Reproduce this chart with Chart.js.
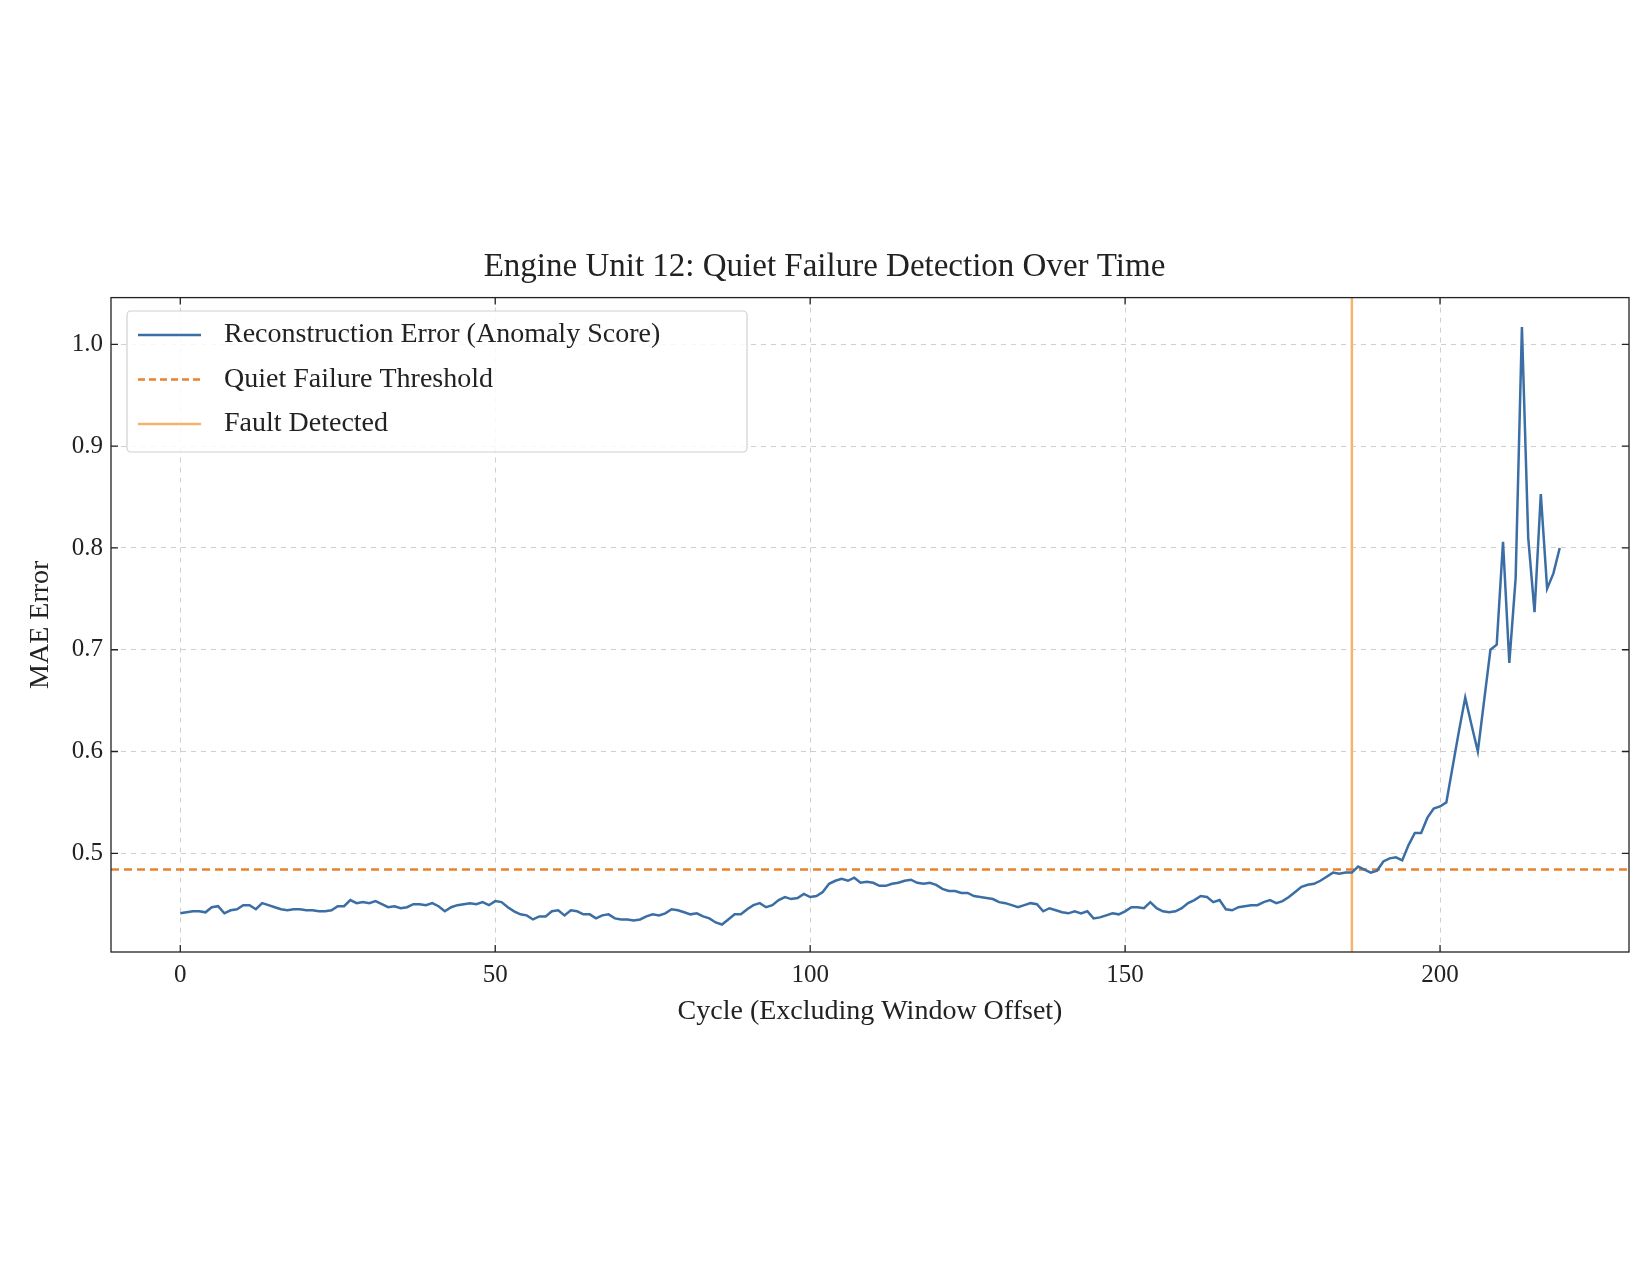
<!DOCTYPE html>
<html><head><meta charset="utf-8">
<script src="https://cdn.jsdelivr.net/npm/chart.js@4.4.1/dist/chart.umd.min.js"></script>
<style>html,body{margin:0;padding:0;background:#fff}#wrap{width:1650px;height:1275px}</style>
</head><body><div id="wrap"><canvas id="c" width="1650" height="1275"></canvas></div>
<script>
const errorValues = [
.441,.442,.443,.443,.442,.447,.448,.441,.444,.445,
.449,.449,.445,.451,.449,.447,.445,.444,.445,.445,
.444,.444,.443,.443,.444,.448,.448,.454,.451,.452,
.451,.453,.450,.447,.448,.446,.447,.450,.450,.449,
.451,.448,.443,.447,.449,.450,.451,.450,.452,.449,
.453,.452,.447,.443,.440,.439,.435,.438,.438,.443,
.444,.439,.444,.443,.440,.440,.436,.439,.440,.436,
.435,.435,.434,.435,.438,.440,.439,.441,.445,.444,
.442,.440,.441,.438,.436,.432,.430,.435,.440,.440,
.445,.449,.451,.447,.449,.454,.457,.455,.456,.460,
.457,.458,.462,.470,.473,.475,.473,.476,.471,.472,
.471,.468,.468,.470,.471,.473,.474,.471,.470,.471,
.469,.465,.463,.463,.461,.461,.458,.457,.456,.455,
.452,.451,.449,.447,.449,.451,.450,.443,.446,.444,
.442,.441,.443,.441,.443,.436,.437,.439,.441,.440,
.443,.447,.447,.446,.452,.446,.443,.442,.443,.446,
.451,.454,.458,.457,.452,.454,.445,.444,.447,.448,
.449,.449,.452,.454,.451,.453,.457,.462,.467,.469,
.470,.473,.477,.481,.480,.481,.481,.487,.484,.481,
.483,.492,.495,.496,.493,.508,.520,.520,.535,.544,
.546,.550,.585,.620,.653,.626,.600,.650,.700,.705,
.806,.687,.770,1.017,.810,.737,.853,.760,.775,.800];
const cycles = errorValues.map((_, i) => i);
const threshold = 0.484;
const faultCycle = 186;
const yTicks = [0.5, 0.6, 0.7, 0.8, 0.9, 1.0];
const xTicks = [0, 50, 100, 150, 200];
const legendLabels = ["Reconstruction Error (Anomaly Score)", "Quiet Failure Threshold", "Fault Detected"];

const FONT = "'Liberation Serif', 'DejaVu Serif', serif";
const BLUE = '#3b6ea5', ORANGE = '#e8822e', LIGHT = '#f5b46e';
const X_MIN = -11, X_MAX = 230, Y_MIN = 0.403, Y_MAX = 1.046;

const frame = {
  id: 'frame',
  afterDraw(chart) {
    const {ctx, chartArea: a, scales} = chart;
    ctx.save();
    ctx.strokeStyle = '#222'; ctx.lineWidth = 1.3;
    ctx.strokeRect(a.left, a.top, a.right - a.left, a.bottom - a.top);
    ctx.beginPath();
    xTicks.forEach(v => { const x = scales.x.getPixelForValue(v);
      ctx.moveTo(x, a.bottom); ctx.lineTo(x, a.bottom - 7); ctx.moveTo(x, a.top); ctx.lineTo(x, a.top + 7); });
    yTicks.forEach(v => { const y = scales.y.getPixelForValue(v);
      ctx.moveTo(a.left, y); ctx.lineTo(a.left + 7, y); ctx.moveTo(a.right, y); ctx.lineTo(a.right - 7, y); });
    ctx.stroke();
    // legend
    const lx = 127, ly = 311, lw = 620, lh = 141;
    ctx.fillStyle = 'rgba(255,255,255,0.85)';
    ctx.strokeStyle = '#d0d0d0'; ctx.lineWidth = 1.2;
    ctx.beginPath(); ctx.roundRect(lx, ly, lw, lh, 4); ctx.fill(); ctx.stroke();
    const styles = [[BLUE, []], [ORANGE, [7, 4]], [LIGHT, []]];
    ctx.font = '28px ' + FONT; ctx.textBaseline = 'middle'; ctx.fillStyle = '#222';
    legendLabels.forEach((t, i) => {
      const y = 335 + i * 44.5;
      ctx.strokeStyle = styles[i][0]; ctx.setLineDash(styles[i][1]); ctx.lineWidth = 2.5;
      ctx.beginPath(); ctx.moveTo(138, y); ctx.lineTo(201, y); ctx.stroke();
      ctx.setLineDash([]);
      ctx.fillText(t, 224, y);
    });
    ctx.restore();
  }
};

new Chart(document.getElementById('c'), {
  type: 'line',
  data: { datasets: [
    { data: cycles.map((c, i) => ({x: c, y: errorValues[i]})), borderColor: BLUE, borderWidth: 2.5, pointRadius: 0, tension: 0 },
    { data: [{x: X_MIN, y: threshold}, {x: X_MAX, y: threshold}], borderColor: ORANGE, borderWidth: 2.5, borderDash: [8, 5], pointRadius: 0 },
    { data: [{x: faultCycle, y: Y_MIN}, {x: faultCycle, y: Y_MAX}], borderColor: LIGHT, borderWidth: 2.5, pointRadius: 0 }
  ]},
  options: {
    responsive: false, animation: false,
    layout: { padding: { left: 20, right: 21, top: 248, bottom: 243 } },
    plugins: {
      legend: { display: false }, tooltip: { enabled: false },
      title: { display: true, text: 'Engine Unit 12: Quiet Failure Detection Over Time', color: '#222',
        font: { family: FONT, size: 33, weight: 'normal' }, padding: { top: 0, bottom: 10 } }
    },
    scales: {
      x: { type: 'linear', min: X_MIN, max: X_MAX,
        afterBuildTicks: s => { s.ticks = xTicks.map(v => ({value: v})); },
        afterFit: s => { s.height = 80; },
        grid: { color: '#cfcfcf', lineWidth: 1, drawTicks: false, tickBorderDash: [], },
        border: { display: false, dash: [5, 5] },
        ticks: { color: '#222', font: { family: FONT, size: 25 }, padding: 8, maxRotation: 0 },
        title: { display: true, text: 'Cycle (Excluding Window Offset)', color: '#222', font: { family: FONT, size: 28 }, padding: { top: 2 } }
      },
      y: { min: Y_MIN, max: Y_MAX,
        afterBuildTicks: s => { s.ticks = yTicks.map(v => ({value: v})); },
        afterFit: s => { s.width = 91; },
        grid: { color: '#cfcfcf', lineWidth: 1, drawTicks: false },
        border: { display: false, dash: [5, 5] },
        ticks: { color: '#222', font: { family: FONT, size: 25 }, padding: 8, callback: v => v.toFixed(1) },
        title: { display: true, text: 'MAE Error', color: '#222', font: { family: FONT, size: 28 }, padding: { bottom: 4 } }
      }
    }
  },
  plugins: [frame]
});
</script></body></html>
